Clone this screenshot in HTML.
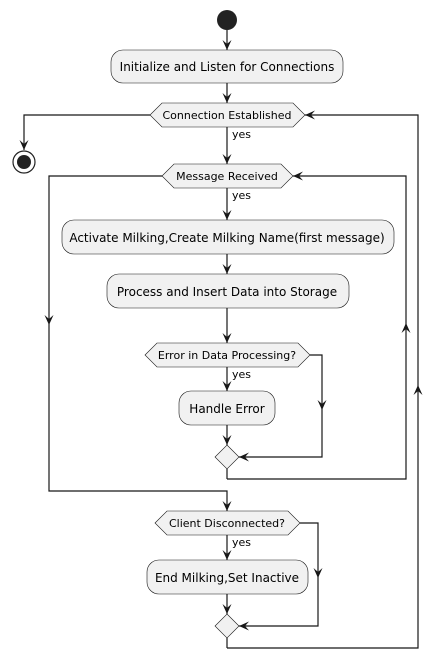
<!DOCTYPE html>
<html><head><style>html,body{margin:0;padding:0;background:#fff}svg{display:block}</style></head>
<body>
<svg width="443" height="671" viewBox="0 0 443 671" xmlns="http://www.w3.org/2000/svg" font-family="'DejaVu Sans', sans-serif">
<defs>
<path id="ad" d="M0,0 L-4.5,-10 L0,-6 L4.5,-10 Z" fill="#181818"/>
</defs>
<g stroke="#181818" stroke-width="1.2" fill="none">
<line x1="227" y1="30" x2="227" y2="50"/>
<line x1="227" y1="83" x2="227" y2="103"/>
<polyline points="150,115 24,115 24,150"/>
<polyline points="227,648 418,648 418,115 305,115"/>
<line x1="227" y1="127" x2="227" y2="164"/>
<polyline points="162,176 49,176 49,491 227,491 227,511"/>
<polyline points="227,479 406,479 406,176 293,176"/>
<line x1="227" y1="188" x2="227" y2="220"/>
<line x1="227" y1="254" x2="227" y2="274"/>
<line x1="227" y1="308" x2="227" y2="343"/>
<line x1="227" y1="367" x2="227" y2="391"/>
<polyline points="310,355 322,355 322,457 239,457"/>
<line x1="227" y1="425" x2="227" y2="445"/>
<line x1="227" y1="469" x2="227" y2="479"/>
<line x1="227" y1="535" x2="227" y2="560"/>
<polyline points="300,523 318,523 318,626 239,626"/>
<line x1="227" y1="594" x2="227" y2="614"/>
<line x1="227" y1="638" x2="227" y2="648"/>
</g>
<use href="#ad" x="227" y="50"/>
<use href="#ad" x="227" y="103"/>
<use href="#ad" x="24" y="150"/>
<use href="#ad" x="227" y="164"/>
<use href="#ad" x="227" y="220"/>
<use href="#ad" x="227" y="274"/>
<use href="#ad" x="227" y="343"/>
<use href="#ad" x="227" y="391"/>
<use href="#ad" x="227" y="445"/>
<use href="#ad" x="227" y="511"/>
<use href="#ad" x="227" y="560"/>
<use href="#ad" x="227" y="614"/>
<use href="#ad" x="49" y="325"/>
<use href="#ad" x="322" y="410"/>
<use href="#ad" x="318" y="578"/>
<use href="#ad" transform="translate(406,323) rotate(180)"/>
<use href="#ad" transform="translate(418,385) rotate(180)"/>
<use href="#ad" transform="translate(305,115) rotate(90)"/>
<use href="#ad" transform="translate(293,176) rotate(90)"/>
<use href="#ad" transform="translate(239,457) rotate(90)"/>
<use href="#ad" transform="translate(239,626) rotate(90)"/>
<circle cx="227" cy="20" r="10" fill="#222"/>
<circle cx="24" cy="162" r="11" fill="#fff" stroke="#222" stroke-width="1.2"/>
<circle cx="24" cy="162" r="7" fill="#222"/>
<g fill="#f1f1f1" stroke="#181818" stroke-width="0.6">
<rect x="111" y="50" width="232" height="33" rx="12"/>
<polygon points="150,115 162,103 293,103 305,115 293,127 162,127"/>
<polygon points="162,176 174,164 281,164 293,176 281,188 174,188"/>
<rect x="62" y="220" width="332" height="34" rx="12"/>
<rect x="107" y="274" width="242" height="34" rx="12"/>
<polygon points="145,355 157,343 298,343 310,355 298,367 157,367"/>
<rect x="179" y="391" width="96" height="34" rx="12"/>
<polygon points="227,445 239,457 227,469 215,457"/>
<polygon points="155,523 167,511 288,511 300,523 288,535 167,535"/>
<rect x="147" y="560" width="161" height="34" rx="12"/>
<polygon points="227,614 239,626 227,638 215,626"/>
</g>
<g fill="#000" font-size="12" text-anchor="middle">
<text x="227" y="71">Initialize and Listen for Connections</text>
<text x="227" y="242">Activate Milking,Create Milking Name(first message)</text>
<text x="227" y="296">Process and Insert Data into Storage</text>
<text x="227" y="413">Handle Error</text>
<text x="227" y="582">End Milking,Set Inactive</text>
</g>
<g fill="#000" font-size="11" text-anchor="middle">
<text x="227" y="119">Connection Established</text>
<text x="227" y="180">Message Received</text>
<text x="227" y="359">Error in Data Processing?</text>
<text x="227" y="527">Client Disconnected?</text>
</g>
<g fill="#000" font-size="11">
<text x="232" y="138">yes</text>
<text x="232" y="199">yes</text>
<text x="232" y="378">yes</text>
<text x="232" y="546">yes</text>
</g>
</svg>
</body></html>
